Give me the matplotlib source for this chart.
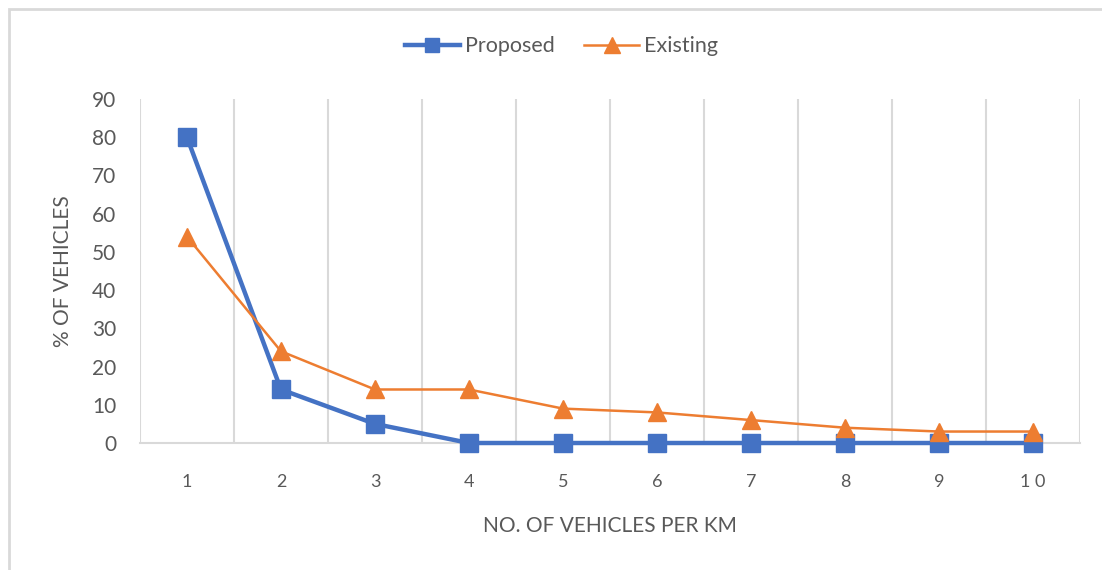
import matplotlib
matplotlib.use('Agg')
import matplotlib.pyplot as plt
from matplotlib.patches import Rectangle

# values
categories = [1, 2, 3, 4, 5, 6, 7, 8, 9, 10]
tick_labels = ['1', '2', '3', '4', '5', '6', '7', '8', '9', '1 0']
proposed = [80, 14, 5, 0, 0, 0, 0, 0, 0, 0]
existing = [54, 24, 14, 14, 9, 8, 6, 4, 3, 3]

plt.rcParams['font.family'] = ['Lato', 'DejaVu Sans']
grey = '#595959'
grid = '#D9D9D9'

fig = plt.figure(figsize=(11.02, 5.70), dpi=100)
ax = fig.add_axes([0.127, 0.2228, 0.853, 0.6035])

ax.plot(categories, proposed, color='#4472C4', lw=3.2, marker='s', markersize=12.5,
        label='Proposed', zorder=3, clip_on=False)
ax.plot(categories, existing, color='#ED7D31', lw=1.8, marker='^', markersize=13.5,
        label='Existing', zorder=4, clip_on=False)

ax.set_xlim(0.5, 10.5)
ax.set_ylim(0, 90)
ax.set_yticks(range(0, 91, 10))
ax.set_xticks(categories)
ax.set_xticklabels(tick_labels)
ax.set_xticks([c + 0.5 for c in range(0, 11)], minor=True)
ax.grid(which='minor', axis='x', color=grid, lw=1.5)
ax.tick_params(which='both', length=0)
ax.tick_params(axis='y', labelsize=15, labelcolor=grey, pad=17)
ax.tick_params(axis='x', labelsize=13, labelcolor=grey, pad=22)
for s in ['top', 'right', 'left']:
    ax.spines[s].set_visible(False)
ax.spines['bottom'].set_color(grid)
ax.spines['bottom'].set_linewidth(1.5)

ax.set_xlabel('NO. OF VEHICLES PER KM', fontsize=15, color=grey, labelpad=19)
ax.set_ylabel('% OF VEHICLES', fontsize=15, color=grey, labelpad=14)

leg = fig.legend(loc='center', bbox_to_anchor=(0.5095, 0.919), ncol=2, frameon=False,
                 fontsize=15.5, labelcolor=grey, handlelength=2.55, handletextpad=0.23,
                 columnspacing=1.4, markerscale=0.85)

fig.patches.append(Rectangle((0.008, -0.1), 1.2, 0.984 + 0.1, transform=fig.transFigure,
                             fill=False, edgecolor=grid, lw=2))

fig.savefig('out.png', dpi=100)
